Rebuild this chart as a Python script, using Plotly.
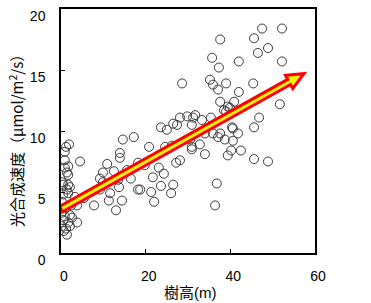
import math
import plotly.graph_objects as go

# ---- data ----
tree_height = [
    47.5, 52.2, 45.6, 48.9, 46.5, 37.6, 35.7, 42.0, 52.2, 37.3,
    28.6, 35.2, 35.9, 37.1, 39.0, 45.4, 42.0, 51.7, 37.6, 39.4,
    40.9, 38.5, 39.9, 39.0, 46.8, 45.6, 31.7, 30.9, 33.3, 28.1,
    29.8, 31.2, 35.4, 40.4, 40.6, 35.9, 37.1, 38.7, 41.8, 32.8,
    30.9, 26.5, 23.6, 25.0, 27.4, 14.6, 17.2, 20.8, 24.6, 26.2,
    30.9, 34.0, 39.4, 40.6, 40.2, 42.5, 45.6, 48.9, 37.6, 36.8,
    36.4, 28.1, 27.2, 23.1, 24.3, 21.7, 26.5, 23.6, 26.0, 21.3,
    22.0, 18.7,
    13.9, 10.9, 9.9, 12.5, 15.6, 18.2, 9.2, 9.9, 13.5, 13.7,
    18.2, 11.6, 5.4, 7.8, 11.3, 14.4, 13.0, 16.5, 13.9,
    1.9, 1.2, 0.9, 4.5, 1.7, 0.9, 1.4, 1.7, 0.5, 1.7,
    2.1, 1.4, 1.7, 3.3, 0.5, 3.8, 3.8, 1.4, 0.2, 0.9,
    2.1, 0.5, 1.7, 0.2, 1.2, 2.1, 0.7, 2.6, 0.2, 1.2,
    2.4, 0.2, 0.9,
    9.2, 19.8, 30.5, 34.0,
]
photosynthesis = [
    18.4, 18.4, 17.6, 16.8, 16.4, 17.5, 16.0, 15.7, 15.7, 15.2,
    13.9, 14.2, 13.8, 13.4, 13.9, 13.9, 13.2, 12.2, 12.4, 12.0,
    12.4, 11.7, 11.9, 11.6, 11.1, 10.3, 11.3, 10.5, 10.9, 11.1,
    11.2, 11.1, 11.1, 10.3, 10.2, 9.8, 9.5, 9.3, 9.8, 8.9,
    8.7, 10.6, 10.3, 10.1, 10.5, 9.3, 9.5, 8.7, 8.7, 8.8,
    8.5, 8.1, 8.0, 9.2, 8.4, 8.4, 7.7, 7.5, 9.8, 5.7,
    3.9, 7.6, 7.4, 7.0, 6.5, 6.2, 5.6, 5.5, 4.9, 5.0,
    4.2, 5.2,
    7.8, 7.3, 6.6, 6.7, 6.8, 7.4, 6.1, 5.8, 6.0, 5.4,
    5.2, 4.9, 4.5, 3.9, 4.3, 4.3, 3.5, 6.1, 8.2,
    8.9, 8.7, 8.3, 7.5, 7.1, 7.0, 6.6, 6.4, 5.6, 5.6,
    5.4, 5.2, 4.9, 4.6, 4.8, 3.9, 2.5, 1.5, 3.3, 3.0,
    3.1, 2.7, 2.5, 2.2, 2.0, 2.2, 1.8, 2.9, 4.2, 3.7,
    3.9, 5.8, 7.6,
    5.2, 7.2, 9.3, 9.8,
]

# trend arrow (start, end) in data units
arrow_x = [0.0, 57.4]
arrow_y = [3.6, 14.7]

x_ticks = [0, 20, 40, 60]
y_ticks = [0, 5, 10, 15, 20]
x_range = [0, 60]
y_range = [0, 20]

x_title = "樹高(m)"
y_title = "光合成速度（μmol/m<sup>2</sup>/s）"

# ---- layout geometry ----
W, H = 371, 303
ml, mr, mt, mb = 61, 56, 9, 50
plot_w = W - ml - mr
plot_h = H - mt - mb

# ---- arrow polygon (computed in pixel space, expressed in data units) ----
kx = plot_w / (x_range[1] - x_range[0])
ky = plot_h / (y_range[1] - y_range[0])
x0, x1 = arrow_x
y0, y1 = arrow_y
dxp = (x1 - x0) * kx
dyp = (y1 - y0) * ky
L = math.hypot(dxp, dyp)
ux, uy = dxp / L, dyp / L
nx, ny = -uy, ux
shaft, head_w, head_len = 3.0, 7.5, 17.0
local = [(0, shaft), (L - head_len, shaft), (L - head_len, head_w), (L, 0),
         (L - head_len, -head_w), (L - head_len, -shaft), (0, -shaft)]
pts = [(x0 + (a * ux + b * nx) / kx, y0 + (a * uy + b * ny) / ky) for a, b in local]
path = "M " + " L ".join(f"{px:.4f},{py:.4f}" for px, py in pts) + " Z"

font_family = "Arial, Liberation Sans, Noto Sans CJK JP, sans-serif"
cjk_family = "Noto Sans CJK JP, sans-serif"

fig = go.Figure()
fig.add_trace(go.Scatter(
    x=tree_height, y=photosynthesis, mode="markers",
    marker=dict(symbol="circle-open", size=9, color="#3a3a3a", line=dict(width=1)),
    showlegend=False, hoverinfo="skip",
))

fig.add_shape(type="path", path=path, xref="x", yref="y", layer="above",
              fillcolor="#FFF200", line=dict(color="#FF0000", width=3))

axis_common = dict(
    showgrid=False, zeroline=False, showline=True, mirror=True,
    linecolor="black", linewidth=1.5, ticks="inside", ticklen=4,
    tickcolor="black", tickwidth=1,
    tickfont=dict(family=font_family, size=14, color="black"),
)
fig.update_xaxes(range=x_range, tickvals=x_ticks, ticktext=[str(v) for v in x_ticks],
                 ticklabelstandoff=9, ticklabelshift=3, **axis_common)
fig.update_yaxes(range=y_range, tickvals=y_ticks, ticktext=[str(v) for v in y_ticks],
                 ticklabelstandoff=11, ticklabelshift=7, **axis_common)

fig.add_annotation(text=x_title, xref="paper", yref="paper", x=0.5, y=0,
                   xanchor="center", yanchor="middle", xshift=2, yshift=-39,
                   showarrow=False, font=dict(family=font_family, size=15, color="black"))
fig.add_annotation(text=y_title, xref="paper", yref="paper", x=0, y=0.5,
                   xanchor="center", yanchor="middle", xshift=-45, yshift=-6,
                   textangle=-90, showarrow=False,
                   font=dict(family=cjk_family, size=15, color="black"))

fig.update_layout(
    width=W, height=H, margin=dict(l=ml, r=mr, t=mt, b=mb, autoexpand=False),
    paper_bgcolor="white", plot_bgcolor="white", showlegend=False,
)

fig.write_html("out.html")
